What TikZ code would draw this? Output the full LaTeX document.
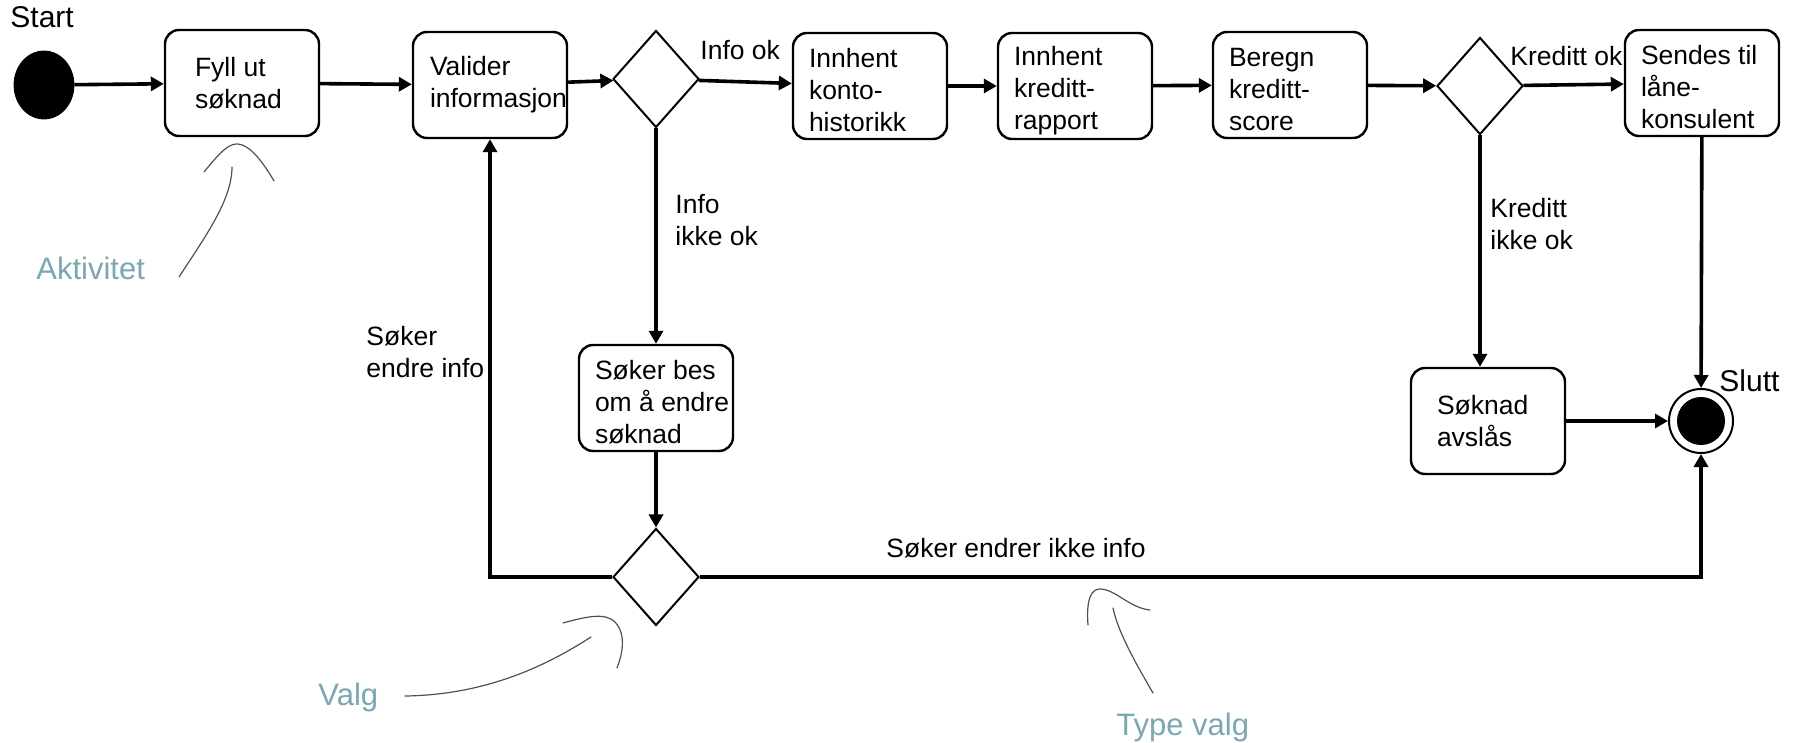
\documentclass[tikz,border=0pt]{standalone}
\usepackage{fontspec}
\setmainfont{Liberation Sans}
\usetikzlibrary{shapes.geometric, arrows.meta}
\definecolor{notecol}{RGB}{122,167,180}
\definecolor{sketchcol}{RGB}{80,80,80}

\begin{document}
\begin{tikzpicture}[x=0.5pt, y=-0.5pt,
        act/.style={draw=black, line width=1.2pt, rounded corners=7pt, minimum width=77pt, minimum height=53pt, align=flush left, inner xsep=8pt, text width=61pt, inner ysep=2pt, font=\fontsize{13.25}{16}\selectfont},
        act3/.style={act, execute at begin node={\rule{0pt}{14pt}}},
        dec/.style={draw=black, diamond, line width=1pt, minimum width=43pt, minimum height=48.5pt, inner sep=0pt},
        lbl/.style={inner sep=0pt, align=left, font=\fontsize{13.25}{16}\selectfont},
        big/.style={lbl, font=\fontsize{15}{18}\selectfont},
        note/.style={inner sep=0pt, text=notecol, font=\fontsize{15.5}{18}\selectfont},
        sketch/.style={draw=sketchcol, line width=0.6pt, line cap=round},
        flow/.style={->, line width=1.8pt},
        >={Triangle[length=6.5pt, width=7pt]}]
        \useasboundingbox (0,0) rectangle (1800,743);

        \node[draw, fill=black, ellipse, minimum width=30pt, minimum height=34pt] (start) at (44,85) {};
        \node[act, inner xsep=15pt, text width=47pt] (fyll) at (242,83) {\mbox{Fyll ut}\\søknad};
        \node[act, inner xsep=8.5pt, text width=60pt] (valider) at (490,85) {Valider\\\mbox{informasjon}};
        \node[dec] (valg1) at (656,79) {};
        \node[act3] (konto) at (870,86) {Innhent\\konto-\\historikk};
        \node[act3] (rapport) at (1075,86) {Innhent\\kreditt-\\rapport};
        \node[act3] (score) at (1290,85) {Beregn\\kreditt-\\score};
        \node[dec] (valg2) at (1480,86) {};
        \node[act3] (sendes) at (1702,83) {\mbox{Sendes til}\\låne-\\konsulent};
        \node[act3] (endre) at (656,398) {\mbox{Søker bes}\\\mbox{om å endre}\\søknad};
        \node[dec] (valg3) at (656,577) {};
        \node[act, inner xsep=13pt, text width=51pt] (avslag) at (1488,421) {Søknad\\avslås};
        \node[circle, draw, line width=1pt, minimum size=32pt, path picture={\fill (path picture bounding box.center) circle (12pt);}] (slutt) at (1701,421) {};

        \node[big, anchor=base west] (starttxt) at (10,28) {Start};
        \node[big, anchor=base west] (slutttxt) at (1719,392) {Slutt};
        \node[lbl, anchor=base west] (infook) at (700,60) {Info ok};
        \node[lbl, anchor=north west] (infoikke) at (675,194) {Info\\ikke ok};
        \node[lbl, anchor=base west] (kredittok) at (1510,66) {Kreditt ok};
        \node[lbl, anchor=north west] (kredittikke) at (1490,198) {Kreditt\\ikke ok};
        \node[lbl, anchor=north west] (endreinfo) at (366,326) {Søker\\endre info};
        \node[lbl, anchor=base west] (ikkeendre) at (886,557) {Søker endrer ikke info};

        \draw[flow] (start) -- (fyll);
        \draw[flow] (fyll) -- (valider);
        \draw[flow] (valider) -- (valg1);
        \draw[flow] (valg1) -- (konto);
        \draw[flow] (konto) -- (rapport);
        \draw[flow] (rapport) -- (score);
        \draw[flow] (score) -- (valg2);
        \draw[flow] (valg2) -- (sendes);

        \draw[flow] (valg1) -- (endre);
        \draw[flow] (endre) -- (valg3);
        \draw[flow] (valg3.west) -| (valider.south);
        \draw[flow] (valg3.east) -| (slutt.south);

        \draw[flow] (valg2) -- (valg2 |- avslag.north);
        \draw[flow] (avslag) -- (slutt);
        \draw[flow] (sendes) -- (slutt);

        % hand drawn pointers
        \node[note, anchor=base west] (aktivitet) at (36,280) {Aktivitet};
        \draw[sketch] (179,277) .. controls (205,237) and (232,200) .. (232,167);
        \draw[sketch] (204,172) .. controls (218,155) and (228,143) .. (238,144) .. controls (250,145) and (263,162) .. (274,181);

        \node[note, anchor=base west] (valgtxt) at (318,705) {Valg};
        \draw[sketch] (405,696) .. controls (480,695) and (540,670) .. (591,637);
        \draw[sketch] (563,623) .. controls (585,617) and (605,612) .. (615,622) .. controls (627,635) and (622,655) .. (617,668);

        \node[note, anchor=base west] (typevalg) at (1116,735) {Type valg};
        \draw[sketch] (1153,693) .. controls (1135,662) and (1118,632) .. (1113,608);
        \draw[sketch] (1088,625) .. controls (1086,600) and (1091,588) .. (1101,589) .. controls (1116,590) and (1130,608) .. (1150,610);
    \end{tikzpicture}
\end{document}
